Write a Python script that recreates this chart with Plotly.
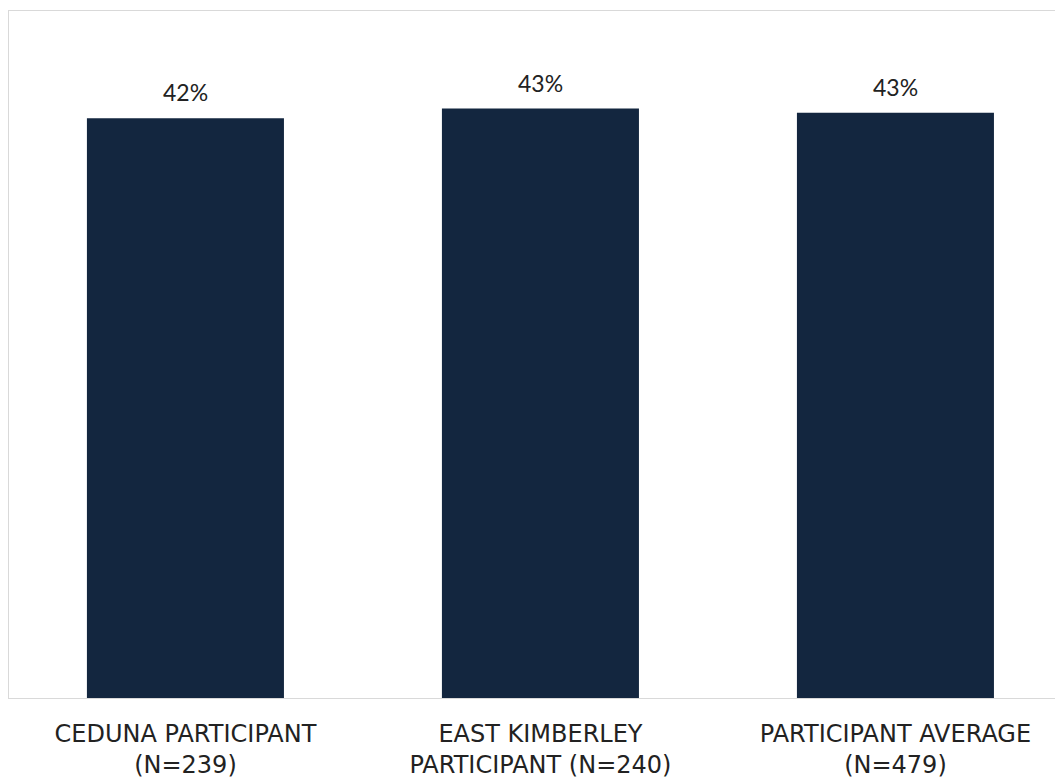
import plotly.graph_objects as go

categories = ["CEDUNA PARTICIPANT<br>(N=239)", "EAST KIMBERLEY<br>PARTICIPANT (N=240)", "PARTICIPANT AVERAGE<br>(N=479)"]
values = [0.422, 0.429, 0.426]
labels = ["42%", "43%", "43%"]

bar_color = "#13263F"
fig = go.Figure()
fig.add_trace(go.Bar(x=categories, y=values, marker=dict(color=bar_color, line=dict(width=0)), width=0.555,
                     hoverinfo="skip"))

for c, v, t in zip(categories, values, labels):
    fig.add_annotation(x=c, y=v, text=t, showarrow=False, yanchor="bottom", yshift=10,
                       font=dict(family="Lato", size=23, color="#222222"))

fig.update_layout(
    width=1055, height=770,
    margin=dict(l=1, r=0, t=3, b=80),
    paper_bgcolor="white", plot_bgcolor="white",
    showlegend=False,
    xaxis=dict(range=[-0.497, 2.472], showline=True, mirror=True, linecolor="#d9d9d9", linewidth=1,
               showgrid=False, ticks="", ticklabelstandoff=14,
               tickfont=dict(family="DejaVu Sans", size=24, color="#222222")),
    yaxis=dict(range=[0, 0.5], showline=True, mirror=False, linecolor="#d9d9d9", linewidth=1,
               showgrid=False, zeroline=False, showticklabels=False, ticks=""),
)

fig.write_html("out.html")
